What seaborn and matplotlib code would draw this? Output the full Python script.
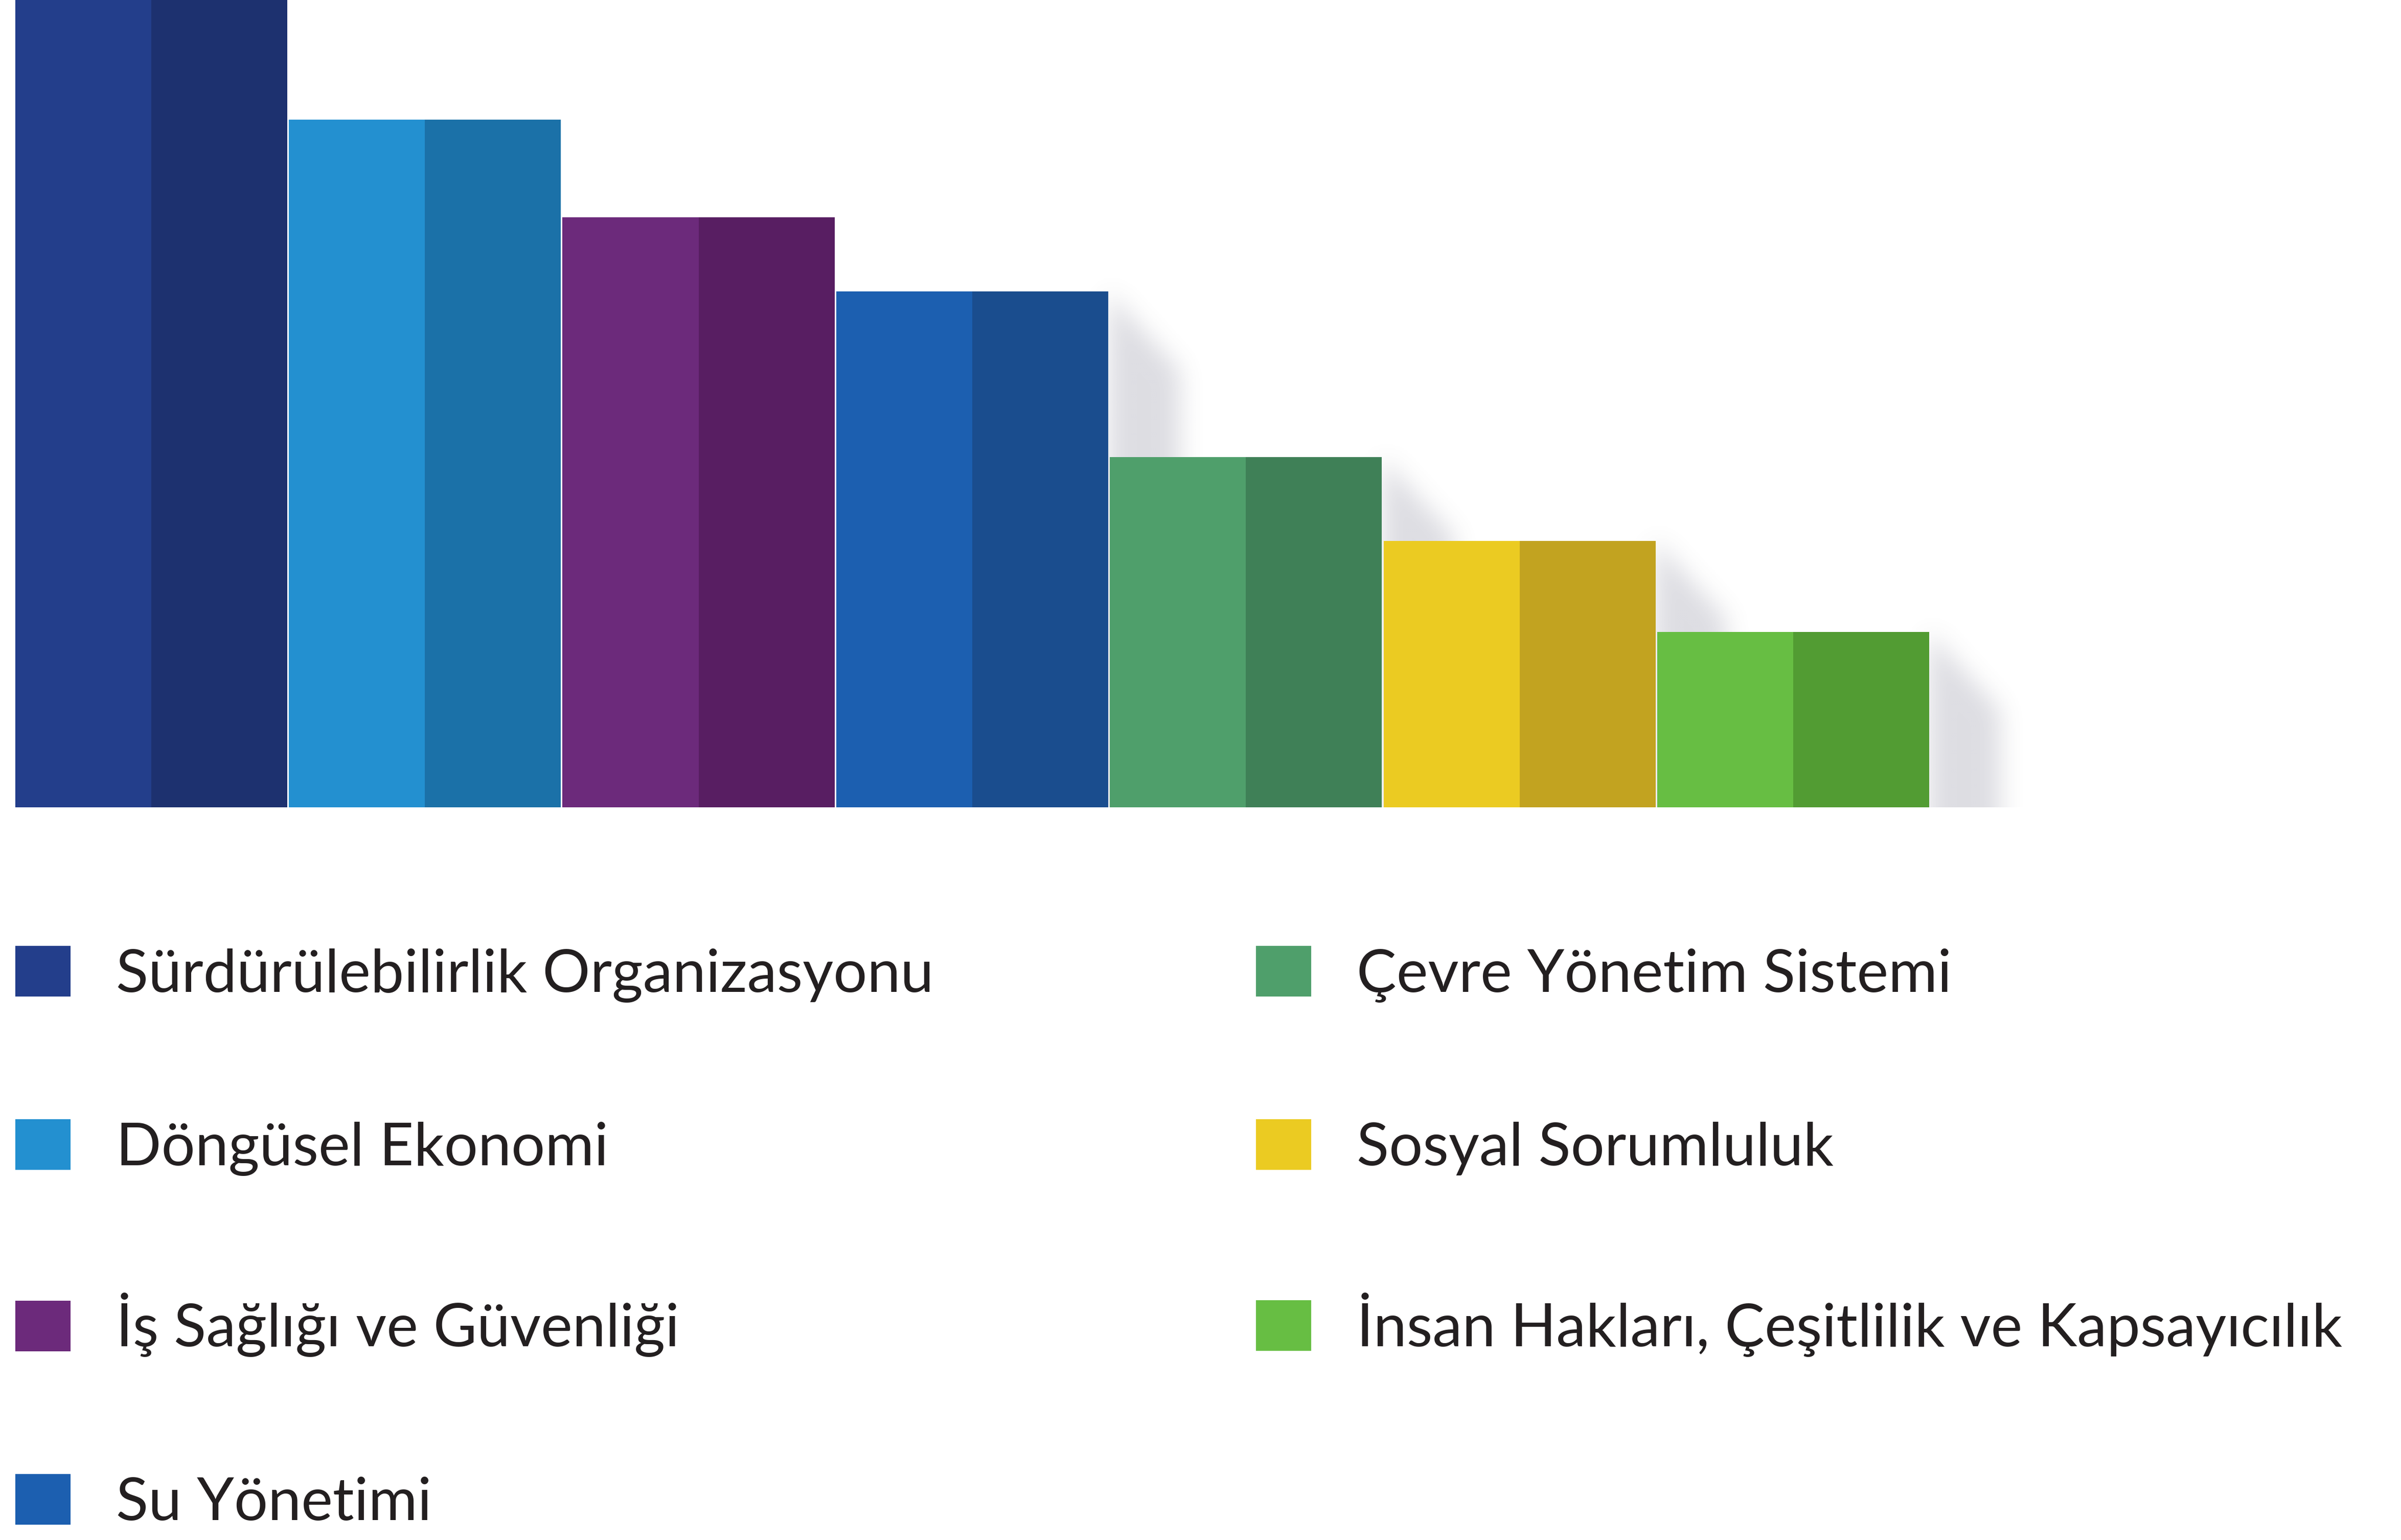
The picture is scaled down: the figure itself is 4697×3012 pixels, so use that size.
import numpy as np
import matplotlib
matplotlib.use("Agg")
import matplotlib.pyplot as plt
from matplotlib.patches import Patch
import seaborn as sns

# Topics and their relative weights (tallest = 100)
categories = [
    "Sürdürülebilirlik Organizasyonu",
    "Döngüsel Ekonomi",
    "İş Sağlığı ve Güvenliği",
    "Su Yönetimi",
    "Çevre Yönetim Sistemi",
    "Sosyal Sorumluluk",
    "İnsan Hakları, Çeşitlilik ve Kapsayıcılık",
]
values = [100.0, 85.2, 73.1, 63.9, 43.4, 33.0, 21.7]

# Two tones per bar: lit left face, shaded right face
light_colors = ["#233E8B", "#2390D0", "#6C2A7B", "#1C5FB0", "#4F9F6B", "#EBCB22", "#67BE43"]
dark_colors = ["#1D316F", "#1B71A8", "#581E62", "#1A4D8E", "#3F8057", "#C2A320", "#529C33"]

sns.set_theme(style="white")
plt.rcParams["font.family"] = ["Lato", "DejaVu Sans"]

W_PX, H_PX = 4697, 3012
fig = plt.figure(figsize=(W_PX / 100, H_PX / 100), dpi=100)
fig.patch.set_facecolor("white")

# plot area: full width, from the top edge down to the bar baseline
base_px = 1579
ax = fig.add_axes([0, 1 - base_px / H_PX, 1, base_px / H_PX])

slot_px = 535.4
left_px = 28
xmin = -0.5 - left_px / slot_px
xmax = xmin + W_PX / slot_px
ymax = 100.0
bar_w = 0.994

df = {"topic": categories, "value": values}
sns.barplot(x="topic", y="value", hue="topic", data=df, palette=light_colors,
            saturation=1, width=bar_w, legend=False, ax=ax, zorder=3,
            edgecolor="none", linewidth=0)
pos = np.arange(len(categories))
ax.bar(pos, values, width=bar_w / 2, align="edge", color=dark_colors,
       edgecolor="none", linewidth=0, zorder=4)

# soft cast shadows to the right of the shorter bars
nx, ny = W_PX // 4, base_px // 4
X = np.linspace(xmin, xmax, nx)
Y = np.linspace(ymax, 0, ny)
XX, YY = np.meshgrid(X, Y)
shade = np.zeros_like(XX)
shadow_w = 140 / slot_px
shadow_slope = 1.1 * slot_px * (ymax / base_px)
for i in range(3, len(values)):
    r = pos[i] + bar_w / 2
    dx = XX - r
    m = (dx >= 0) & (dx <= shadow_w) & (YY <= values[i] - dx * shadow_slope)
    shade = np.maximum(shade, m.astype(float))


def box_blur(a, k):
    pad = k // 2
    for axis in (0, 1):
        b = np.pad(a, [(pad, pad) if j == axis else (0, 0) for j in range(2)], mode="edge")
        c = np.cumsum(b, axis=axis)
        c = np.insert(c, 0, 0, axis=axis)
        if axis == 0:
            a = (c[k:, :] - c[:-k, :])[: a.shape[0], :] / k
        else:
            a = (c[:, k:] - c[:, :-k])[:, : a.shape[1]] / k
    return a


for _ in range(3):
    shade = box_blur(shade, 11)

rgba = np.zeros(shade.shape + (4,))
rgba[..., 0] = 0.40
rgba[..., 1] = 0.40
rgba[..., 2] = 0.50
rgba[..., 3] = shade * 0.22
ax.imshow(rgba, extent=(xmin, xmax, 0, ymax), aspect="auto", zorder=1,
          interpolation="bilinear")

ax.set_xlim(xmin, xmax)
ax.set_ylim(0, ymax)
ax.axis("off")

# legend in two columns
fs = 84
handles = [Patch(facecolor=c, edgecolor="none", label=l) for c, l in zip(light_colors, categories)]
common = dict(frameon=False, fontsize=fs, handlelength=77.8 / fs, handleheight=77.8 / fs,
              handletextpad=0.76, labelspacing=1.96, borderpad=0, borderaxespad=0,
              loc="upper left", labelcolor="#231F20")
leg1 = fig.legend(handles=handles[:4], bbox_to_anchor=(30 / W_PX, 1 - 1850 / H_PX), **common)
leg2 = fig.legend(handles=handles[4:], bbox_to_anchor=(2457 / W_PX, 1 - 1850 / H_PX), **common)

fig.savefig("out.png", dpi=100, facecolor="white")
